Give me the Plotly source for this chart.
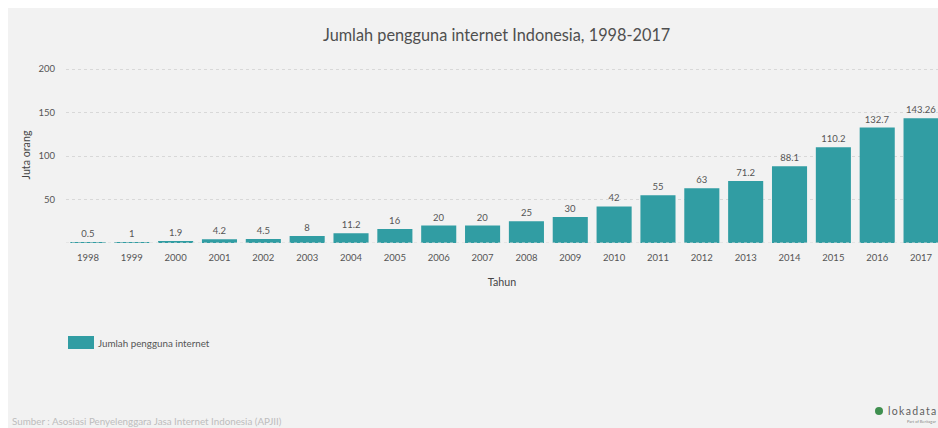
import plotly.graph_objects as go

# Indonesian internet users, millions of people (APJII)
years = ["1998", "1999", "2000", "2001", "2002", "2003", "2004", "2005", "2006", "2007",
         "2008", "2009", "2010", "2011", "2012", "2013", "2014", "2015", "2016", "2017"]
users = [0.5, 1, 1.9, 4.2, 4.5, 8, 11.2, 16, 20, 20,
         25, 30, 42, 55, 63, 71.2, 88.1, 110.2, 132.7, 143.26]
y_ticks = [50, 100, 150, 200]

TITLE = "Jumlah pengguna internet Indonesia, 1998-2017"
SERIES = "Jumlah pengguna internet"
SOURCE = "Sumber : Asosiasi Penyelenggara Jasa Internet Indonesia (APJII)"
BRAND = "l\u2009o\u2009k\u2009a\u2009d\u2009a\u2009t\u2009a"
BRAND_SUB = "Part of Beritagar"

WIDTH, HEIGHT = 938, 428
LEFT, TOP, BOTTOM = 66, 67, 185
FONT = "Lato"
PANEL = "#f2f2f2"
TEAL = "#319da3"
TEXT = "#555555"
GRID = "#d8d8d8"
CLEAR = "rgba(0,0,0,0)"

plot_w = WIDTH - LEFT
plot_h = HEIGHT - TOP - BOTTOM


def px(x):
    return (x - LEFT) / plot_w


def py(y):
    return (HEIGHT - BOTTOM - y) / plot_h


fig = go.Figure(go.Bar(
    x=years,
    y=users,
    marker=dict(color=TEAL, line=dict(width=0)),
    text=[str(v) for v in users],
    textposition="outside",
    textfont=dict(family=FONT, size=9.5, color=TEXT),
    cliponaxis=False,
    name=SERIES,
    showlegend=False,
))

shapes = [
    # grey card behind the whole chart
    dict(type="rect", xref="paper", yref="paper", layer="below", line=dict(width=0),
         fillcolor=PANEL, x0=px(8), x1=1, y0=py(HEIGHT), y1=py(8)),
    # dotted baseline running over the bars
    dict(type="line", xref="paper", yref="y", layer="above", x0=0, x1=1, y0=0, y1=0,
         line=dict(color=GRID, width=1, dash="dot")),
    # legend swatch
    dict(type="rect", xref="paper", yref="paper", layer="above", line=dict(width=0),
         fillcolor=TEAL, x0=px(68), x1=px(94), y0=py(349), y1=py(336)),
    # logo leaf
    dict(type="circle", xref="paper", yref="paper", layer="above", line=dict(width=0),
         fillcolor="#3f8f4f", x0=px(875), x1=px(883), y0=py(415), y1=py(407)),
]

annotations = [
    dict(text=TITLE, x=px(496), y=py(34), font=dict(size=16.3, color="#4f4f4f")),
    dict(text=SERIES, x=px(97), y=py(342.5), xanchor="left", font=dict(size=9.8, color=TEXT)),
    dict(text=SOURCE, x=px(11), y=py(420.5), xanchor="left", font=dict(size=9.8, color="#bdbdbd")),
    dict(text=BRAND, x=px(937), y=py(411), xanchor="right", font=dict(size=10.5, color="#5f5f5f")),
    dict(text=BRAND_SUB, x=px(937), y=py(421), xanchor="right", font=dict(size=4, color="#888888")),
]
for a in annotations:
    a.update(xref="paper", yref="paper", showarrow=False, yanchor="middle", borderpad=0)

fig.update_layout(
    width=WIDTH,
    height=HEIGHT,
    margin=dict(l=LEFT, r=0, t=TOP, b=BOTTOM, pad=0),
    paper_bgcolor="white",
    plot_bgcolor=PANEL,
    font=dict(family=FONT, color=TEXT),
    bargap=0.2,
    shapes=shapes,
    annotations=annotations,
    xaxis=dict(
        type="category",
        range=[-0.5, 19.386],
        showgrid=False,
        showline=False,
        ticks="outside",
        ticklen=6,
        tickcolor=CLEAR,
        tickfont=dict(family=FONT, size=9.5, color=TEXT),
        title=dict(text="Tahun", font=dict(family=FONT, size=10.7, color="#444444"), standoff=16),
    ),
    yaxis=dict(
        range=[0, 202.3],
        tickmode="array",
        tickvals=y_ticks,
        showgrid=True,
        gridcolor=GRID,
        griddash="dot",
        gridwidth=1,
        zeroline=False,
        showline=False,
        ticks="outside",
        ticklen=8,
        tickcolor=CLEAR,
        tickfont=dict(family=FONT, size=9.5, color=TEXT),
        title=dict(text="Juta orang", font=dict(family=FONT, size=10.7, color="#444444"), standoff=5),
    ),
)

fig.write_html("out.html", config=dict(displayModeBar=False))
